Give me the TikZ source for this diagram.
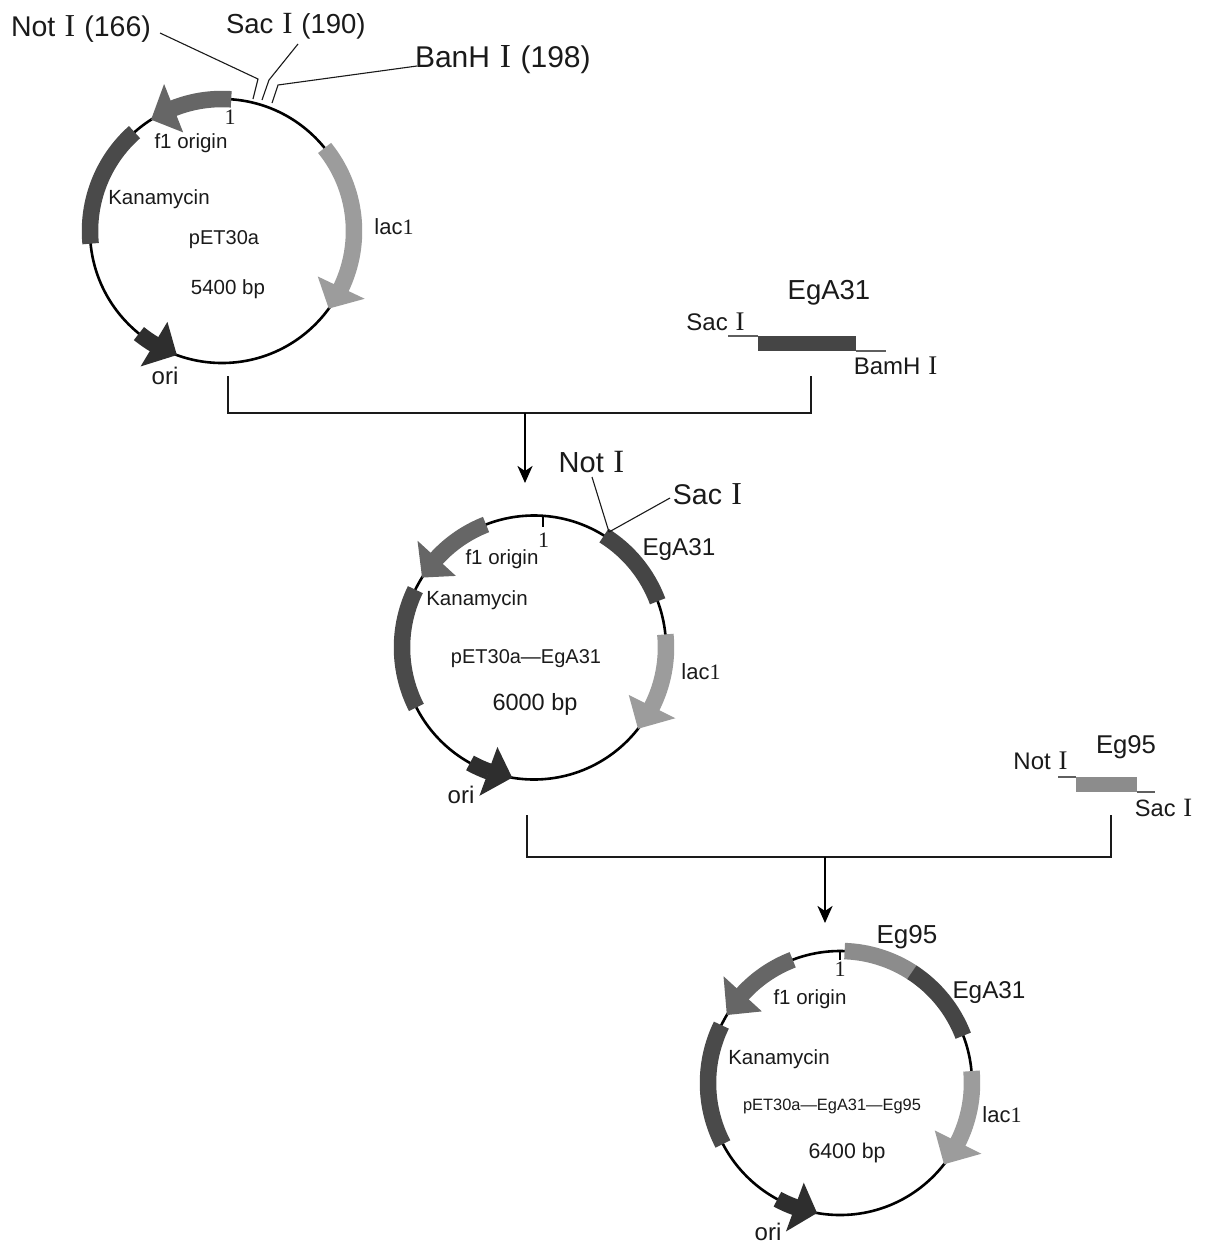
\documentclass[tikz,border=0pt]{standalone}
\usepackage{fontspec}
\setmainfont{Liberation Sans}
\newfontfamily\serifI{Liberation Serif}
\newfontfamily\serifBig[Scale=1.12]{Liberation Serif}
\usetikzlibrary{calc,arrows.meta}
\newcommand{\RI}{\kern0.05em{\serifBig I}\kern0.04em}
\newcommand{\fs}[1]{\fontsize{#1}{#1}\selectfont}
\definecolor{cFone}{HTML}{666666}
\definecolor{cKan}{HTML}{4A4A4A}
\definecolor{cOri}{HTML}{2E2E2E}
\definecolor{cLac}{HTML}{9C9C9C}
\definecolor{cEgA}{HTML}{454545}
\definecolor{cEgn}{HTML}{8C8C8C}
\definecolor{cInk}{HTML}{1A1A1A}
% band: centre, start angle, end angle, colour
\newcommand{\band}[4]{\draw[bandline,#4] ($(#1)+(#2:132)$) arc[start angle=#2,end angle=#3,radius=132pt];}
% head: centre, base angle, tip angle, colour
\newcommand{\head}[4]{\fill[#4] ($(#1)+(#2:158)$) -- ($(#1)+(#3:132)$) -- ($(#1)+(#2:106)$) -- cycle;}
\tikzset{
  x=1pt,y=1pt,
  ring/.style={draw=black,line width=2.6pt},
  bandline/.style={line width=16.5pt},
  lbl/.style={text=cInk,inner sep=0pt,outer sep=0pt},
  leader/.style={draw=cInk,line width=1.1pt},
  tick/.style={draw=black,line width=1.2pt},
  joiner/.style={draw=cInk,line width=1.4pt},
  flow/.style={draw=black,line width=2.6pt,-{Stealth[length=17pt,width=15pt,inset=5pt]}},
  stub/.style={draw=cInk!70,line width=1.1pt}
}
\begin{document}
\begin{tikzpicture}
\useasboundingbox (0,0) rectangle (1205,-1253);
\fill[white] (0,0) rectangle (1205,-1253);

% ---------- plasmid 1
\coordinate (c1) at (222,-231);
\draw[ring] (c1) circle[radius=132pt];
\band{c1}{86}{112}{cFone}\head{c1}{111.5}{122.5}{cFone}
\band{c1}{131.5}{185.5}{cKan}
\band{c1}{231}{240}{cOri}\head{c1}{239}{250}{cOri}
\band{c1}{39}{-26}{cLac}\head{c1}{-25.4}{-36}{cLac}
\node[lbl,anchor=west] (n1not) at (11,-29) {\fs{28.5}Not \RI{} (166)};
\node[lbl,anchor=west] (n1sac) at (226,-26) {\fs{27.5}Sac \RI{} (190)};
\node[lbl,anchor=west] (n1ban) at (415,-60) {\fs{30}BanH \RI{} (198)};
\coordinate (l1a) at (160,-33); \coordinate (l1b) at (258,-79); \coordinate (l1c) at (253,-99);
\coordinate (l2a) at (298,-44); \coordinate (l2b) at (269,-80); \coordinate (l2c) at (262,-100);
\coordinate (l3a) at (417,-66); \coordinate (l3b) at (278,-85); \coordinate (l3c) at (272,-103);
\draw[leader] (l1a) -- (l1b) -- (l1c);
\draw[leader] (l2a) -- (l2b) -- (l2c);
\draw[leader] (l3a) -- (l3b) -- (l3c);
\node[lbl] (n1one) at (230,-117) {\fs{22}\serifI 1};
\node[lbl] (n1f) at (191,-143) {\fs{20.5}f1 origin};
\node[lbl] (n1kan) at (159,-199) {\fs{20.5}Kanamycin};
\node[lbl] (n1name) at (224,-240) {\fs{20}pET30a};
\node[lbl] (n1bp) at (228,-289) {\fs{20.5}5400 bp};
\node[lbl] (n1lac) at (394,-227) {\fs{22}lac{\serifI 1}};
\node[lbl] (n1ori) at (165,-376) {\fs{24}ori};

% ---------- insert EgA31
\node[lbl] (iAname) at (829,-293) {\fs{27.5}EgA31};
\node[lbl] (iAsac) at (716,-322) {\fs{24}Sac \RI};
\node[lbl] (iAbam) at (896,-366) {\fs{24}BamH \RI};
\node[fill=cEgA,minimum width=98pt,minimum height=15pt,inner sep=0pt,outer sep=0pt] (iAbox) at (807,-343.5) {};
\coordinate (iAl) at (728,-336); \coordinate (iAr) at (886,-351);
\draw[stub] (iAl) -- (iAbox.north west);
\draw[stub] (iAbox.south east) -- (iAr);

% ---------- joiner 1
\coordinate (j1a) at (228,-376); \coordinate (j1b) at (228,-413);
\coordinate (j1c) at (811,-413); \coordinate (j1d) at (811,-376);
\coordinate (j1m) at (525,-413); \coordinate (j1e) at (525,-483);
\draw[joiner] (j1a) -- (j1b) -- (j1c) -- (j1d);
\draw[flow] (j1m) -- (j1e);

% ---------- plasmid 2
\coordinate (c2) at (534,-647.5);
\draw[ring] (c2) circle[radius=132pt];
\band{c2}{111.3}{138}{cFone}\head{c2}{137.5}{148}{cFone}
\band{c2}{154}{207}{cKan}
\band{c2}{241}{250}{cOri}\head{c2}{249.8}{260.5}{cOri}
\band{c2}{58}{20.5}{cEgA}
\band{c2}{5.7}{-27}{cLac}\head{c2}{-26.6}{-38}{cLac}
\coordinate (t2a) at (543,-516); \coordinate (t2b) at (543,-527);
\draw[tick] (t2a) -- (t2b);
\node[lbl] (n2not) at (592,-462) {\fs{29}Not \RI};
\node[lbl] (n2sac) at (708,-494) {\fs{28.5}Sac \RI};
\coordinate (l4) at (592,-477); \coordinate (l5) at (670,-498); \coordinate (l6) at (609,-532);
\draw[leader] (l4) -- (l6);
\draw[leader] (l5) -- (l6);
\node[lbl] (n2ega) at (679,-550) {\fs{24.3}EgA31};
\node[lbl] (n2one) at (543.5,-540) {\fs{22}\serifI 1};
\node[lbl] (n2f) at (502,-559) {\fs{20.5}f1 origin};
\node[lbl] (n2kan) at (477,-600) {\fs{20.5}Kanamycin};
\node[lbl] (n2name) at (526,-658.5) {\fs{20}pET30a—EgA31};
\node[lbl] (n2bp) at (535,-704) {\fs{23.5}6000 bp};
\node[lbl] (n2lac) at (701,-672) {\fs{22}lac{\serifI 1}};
\node[lbl] (n2ori) at (461,-795) {\fs{24}ori};

% ---------- insert Eg95
\node[lbl] (iBname) at (1126,-747) {\fs{25.7}Eg95};
\node[lbl] (iBnot) at (1041,-761) {\fs{24}Not \RI};
\node[lbl] (iBsac) at (1164,-808) {\fs{23.6}Sac \RI};
\node[fill=cEgn,minimum width=61pt,minimum height=15pt,inner sep=0pt,outer sep=0pt] (iBbox) at (1106.5,-784.5) {};
\coordinate (iBl) at (1058,-777); \coordinate (iBr) at (1155,-792);
\draw[stub] (iBl) -- (iBbox.north west);
\draw[stub] (iBbox.south east) -- (iBr);

% ---------- joiner 2
\coordinate (j2a) at (527,-815); \coordinate (j2b) at (527,-857);
\coordinate (j2c) at (1111,-857); \coordinate (j2d) at (1111,-815);
\coordinate (j2m) at (825,-857); \coordinate (j2e) at (825,-923);
\draw[joiner] (j2a) -- (j2b) -- (j2c) -- (j2d);
\draw[flow] (j2m) -- (j2e);

% ---------- plasmid 3
\coordinate (c3) at (840,-1083);
\draw[ring] (c3) circle[radius=132pt];
\band{c3}{111}{138}{cFone}\head{c3}{137.5}{149}{cFone}
\band{c3}{154}{207.5}{cKan}
\band{c3}{241.7}{250.5}{cOri}\head{c3}{250}{260}{cOri}
\band{c3}{88}{56.8}{cEgn}
\band{c3}{57}{21}{cEgA}
\band{c3}{5.2}{-27}{cLac}\head{c3}{-26.6}{-38}{cLac}
\coordinate (t3a) at (840,-951); \coordinate (t3b) at (840,-960);
\draw[tick] (t3a) -- (t3b);
\node[lbl] (n3eg) at (907,-937) {\fs{26}Eg95};
\node[lbl] (n3ega) at (989,-993) {\fs{24.3}EgA31};
\node[lbl] (n3one) at (840,-969) {\fs{22}\serifI 1};
\node[lbl] (n3f) at (810,-999) {\fs{20.5}f1 origin};
\node[lbl] (n3kan) at (779,-1059) {\fs{20.5}Kanamycin};
\node[lbl] (n3name) at (832,-1106) {\fs{16.4}pET30a—EgA31—Eg95};
\node[lbl] (n3bp) at (847,-1153) {\fs{21.3}6400 bp};
\node[lbl] (n3lac) at (1002,-1115) {\fs{22}lac{\serifI 1}};
\node[lbl] (n3ori) at (768,-1232) {\fs{24}ori};
\end{tikzpicture}
\end{document}
